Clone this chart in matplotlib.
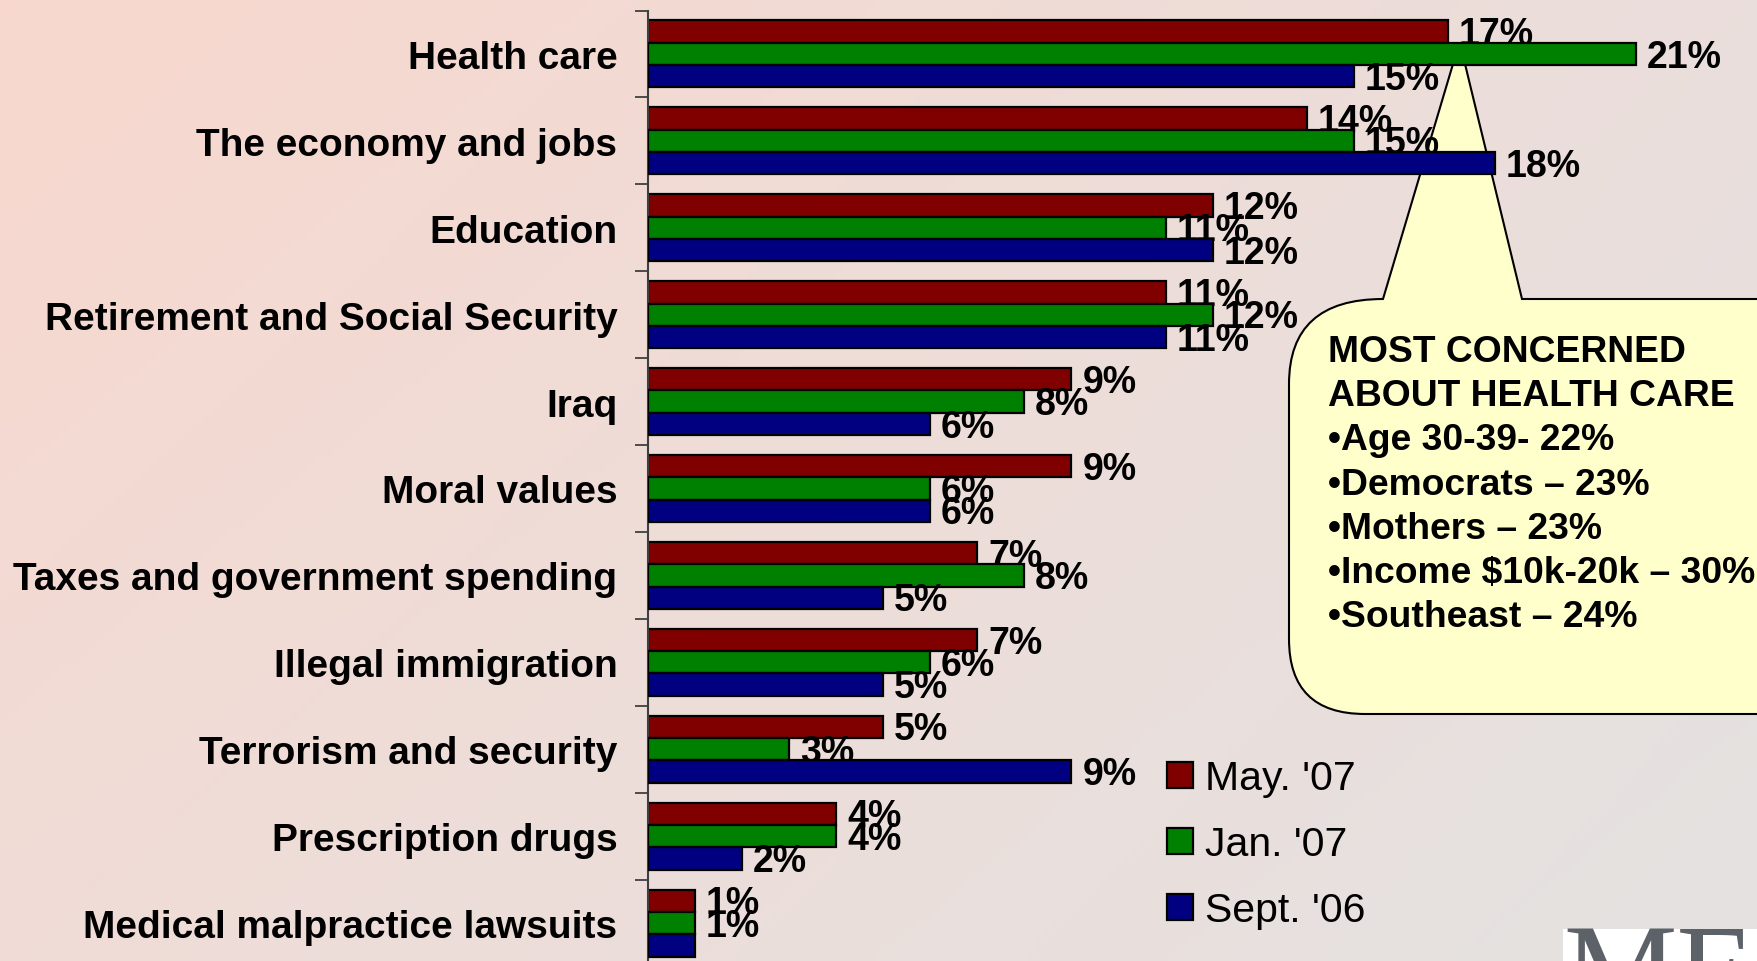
import numpy as np
import matplotlib
matplotlib.use("Agg")
import matplotlib.pyplot as plt
from matplotlib.patches import PathPatch, Rectangle
from matplotlib.path import Path

# -----------------------------
# data
# -----------------------------
categories = [
    "Health care",
    "The economy and jobs",
    "Education",
    "Retirement and Social Security",
    "Iraq",
    "Moral values",
    "Taxes and government spending",
    "Illegal immigration",
    "Terrorism and security",
    "Prescription drugs",
    "Medical malpractice lawsuits",
]
may_07 = [17, 14, 12, 11, 9, 9, 7, 7, 5, 4, 1]
jan_07 = [21, 15, 11, 12, 8, 6, 8, 6, 3, 4, 1]
sept_06 = [15, 18, 12, 11, 6, 6, 5, 5, 9, 2, 1]
series_names = ["May. '07", "Jan. '07", "Sept. '06"]
series_colors = ["#800000", "#008000", "#000080"]

callout_lines = [
    "MOST CONCERNED",
    "ABOUT HEALTH CARE",
    "\u2022Age 30-39- 22%",
    "\u2022Democrats \u2013 23%",
    "\u2022Mothers \u2013 23%",
    "\u2022Income $10k-20k \u2013 30%",
    "\u2022Southeast \u2013 24%",
]

# -----------------------------
# figure (pixel helpers, y from top)
# -----------------------------
W, H = 1757, 962
plt.rcParams["font.family"] = ["Liberation Sans", "DejaVu Sans"]
fig = plt.figure(figsize=(W / 100, H / 100), dpi=100)


def fx(x):
    return x / W


def fy(y):
    return 1 - y / H


# background gradient
bg = fig.add_axes([0, 0, 1, 1], zorder=-5)
tl = np.array([248, 216, 206]) / 255
tr = np.array([234, 222, 220]) / 255
bl = np.array([240, 220, 215]) / 255
br = np.array([228, 226, 225]) / 255
u = np.linspace(0, 1, 200)[None, :, None]
v = np.linspace(0, 1, 120)[:, None, None]
grad = (1 - v) * ((1 - u) * tl + u * tr) + v * ((1 - u) * bl + u * br)
bg.imshow(grad, aspect="auto", extent=[0, 1, 0, 1])
bg.axis("off")

# callout box with pointer (drawn below the bars)
pts = [
    (1453, 65), (1465, 65), (1522, 300), (1800, 300), (1800, 715),
    (1365, 715), (1289, 715), (1289, 640), (1289, 385), (1289, 300),
    (1383, 300), (1453, 65), (1453, 65),
]
codes = [Path.MOVETO, Path.LINETO, Path.LINETO, Path.LINETO, Path.LINETO,
         Path.LINETO, Path.CURVE3, Path.CURVE3, Path.LINETO, Path.CURVE3,
         Path.CURVE3, Path.LINETO, Path.CLOSEPOLY]
callout = PathPatch(Path([(fx(x), fy(y)) for x, y in pts], codes),
                    transform=fig.transFigure, facecolor="#ffffcc",
                    edgecolor="black", linewidth=1.5, zorder=0.5)
fig.patches.append(callout)

# -----------------------------
# main bar chart
# -----------------------------
x0, y_top, y_bot = 648, 11.5, 967.5
px_per_pct = 47.05
ax = fig.add_axes([fx(x0), fy(y_bot), (W - x0) / W, (y_bot - y_top) / H], zorder=1)
ax.patch.set_alpha(0)

pos = np.arange(len(categories))
bar_h = 0.257
for i, (vals, color) in enumerate(zip([may_07, jan_07, sept_06], series_colors)):
    off = (i - 1) * bar_h
    ax.barh(pos + off, vals, height=bar_h, color=color, edgecolor="black",
            linewidth=1.6, zorder=2 + i)
    for p, val in zip(pos, vals):
        # the last Sept. '06 label is not shown in the original (cut off)
        if i == 2 and p == len(categories) - 1:
            continue
        ax.text(val + 0.23, p + off + 0.03, f"{val}%", va="center", ha="left",
                fontsize=27, fontweight="bold", zorder=2.5 + i)

ax.set_xlim(0, (W - x0) / px_per_pct)
ax.set_ylim(len(categories) - 0.5, -0.5)
ax.set_yticks(pos, categories, fontsize=28, fontweight="bold")
ax.set_yticks(np.arange(len(categories) + 1) - 0.5, minor=True)
ax.tick_params(axis="y", which="major", length=0, pad=22)
ax.tick_params(axis="y", which="minor", length=9.5, width=1.3, color="#404040")
ax.set_xticks([])
for s in ["top", "right", "bottom"]:
    ax.spines[s].set_visible(False)
ax.spines["left"].set_color("#404040")
ax.spines["left"].set_linewidth(1.5)

# legend drawn by hand
for i, (name, color) in enumerate(zip(series_names, series_colors)):
    cy = 776 + i * 66
    fig.patches.append(Rectangle((fx(1167), fy(cy + 13)), 26 / W, 26 / H,
                                 transform=fig.transFigure, facecolor=color,
                                 edgecolor="black", linewidth=1.6, zorder=2))
    fig.text(fx(1205), fy(790 + i * 66), name, fontsize=29.5, va="baseline",
             ha="left")

# callout text
for i, line in enumerate(callout_lines):
    fig.text(fx(1328), fy(362 + i * 44.2), line, fontsize=26.8,
             fontweight="bold", va="baseline", ha="left", zorder=4)

# cut-off logo at the bottom right
fig.patches.append(Rectangle((fx(1563), 0), (W - 1563) / W, 32 / H,
                             transform=fig.transFigure, facecolor="white",
                             edgecolor="none", zorder=2))
fig.text(fx(1563), fy(924), "MF", family="Liberation Serif", fontsize=92,
         color="#5c6268", va="top", ha="left", zorder=3)

fig.savefig("out.png", dpi=100)
